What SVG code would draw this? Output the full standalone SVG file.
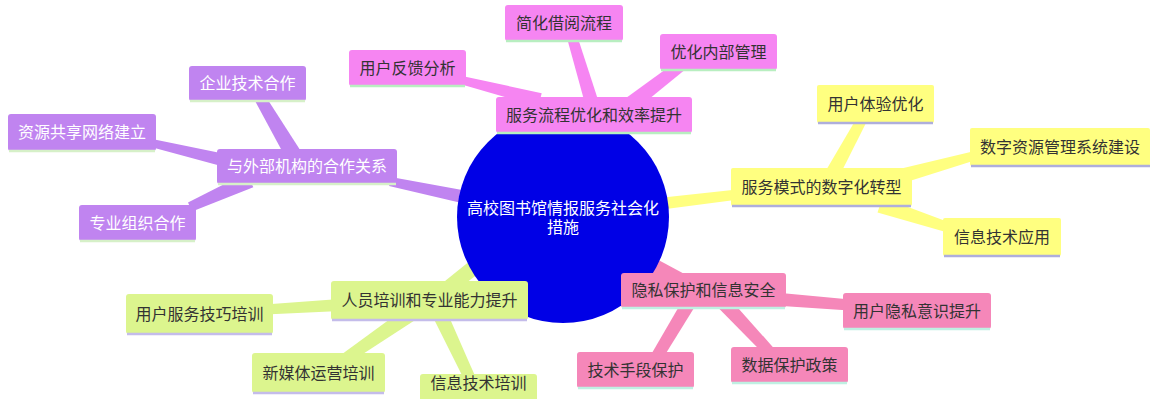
<svg xmlns="http://www.w3.org/2000/svg" width="1150" height="399" viewBox="0 0 1150 399">
<style>
text{font-family:"Noto Sans CJK SC","Noto Sans",sans-serif;font-size:16px;text-anchor:middle;fill:#333}
text.c{font-family:"Liberation Sans","Noto Sans CJK SC",sans-serif}
.sv{fill:#f685f2}.pu{fill:#c084f0}.ye{fill:#ffff80}.gr{fill:#dcf58e}.pk{fill:#f587b9}
.svl{stroke:#b8eec0}.pul{stroke:#d6f0c8}.yel{stroke:#aeaedc}.grl{stroke:#c4bcea}.pkl{stroke:#bff0e2}
line{stroke-width:2.5}
text.w{fill:#ffffff}
</style>
<rect width="1150" height="399" fill="#ffffff"/>
<g id="connectors">
<polygon class="sv" points="563,217 600,118 588,112 555,215"/>
<polygon class="sv" points="541.7,93.2 462,76 460,84 538.3,106.8"/>
<polygon class="sv" points="600.7,108 574.8,28.6 565.2,31.4 587.3,112"/>
<polygon class="sv" points="627.9,116.3 691.4,64.4 684.6,55.6 618.1,103.7"/>
<polygon class="pu" points="303.8,155.7 263,92.2 253.4,97.8 289.2,164.3"/>
<polygon class="pu" points="150.9,138.7 231.5,155.3 228.5,167.9 149.1,146.5"/>
<polygon class="pu" points="246.7,172.7 188,202.4 192,211.6 253.3,187.3"/>
<polygon class="pu" points="389.1,185.9 478.6,207.1 481.4,193.4 390.9,177.1"/>
<polygon class="ye" points="860,112.6 822.4,176.4 835.6,183.6 868.8,117.4"/>
<polygon class="ye" points="976.8,150.5 893,170.6 897,185 979.2,159.1"/>
<polygon class="ye" points="877.5,212.6 948.4,232.8 951.6,223.3 882.5,197.4"/>
<polygon class="ye" points="740.6,199.2 650.7,210.9 649.3,198.9 739.4,189.2"/>
<polygon class="gr" points="265.3,314.5 340.4,311 339.6,299 264.7,304.5"/>
<polygon class="gr" points="408.5,305.4 337.4,357.5 343.6,366.5 417.5,318.6"/>
<polygon class="gr" points="432,315.2 468,387.3 478,382.7 445.6,308.8"/>
<polygon class="gr" points="485.1,248.7 440.7,284.5 449.3,295.5 494.9,261.3"/>
<polygon class="pk" points="774.5,305.5 849.6,310.5 850.4,299.5 775.5,292.5"/>
<polygon class="pk" points="684.8,296.4 648.5,358.9 658.7,365.1 696.8,303.6"/>
<polygon class="pk" points="715.5,305.1 768.5,358.8 776.5,351.2 726.5,294.9"/>
<polygon class="pk" points="621.7,256.2 686.7,291.2 693.3,278.8 628.3,243.8"/>
</g>
<g id="root">
<circle cx="563" cy="217" r="106" fill="#0000e6"/>
<text class="w c" x="563" y="214">高校图书馆情报服务社会化</text>
<text class="w c" x="563" y="232.5">措施</text>
</g>
<g id="n-service">
<rect class="sv" x="496" y="97" width="196" height="36" rx="3"/><line class="svl" x1="497" y1="133" x2="691" y2="133"/>
<text x="594" y="121">服务流程优化和效率提升</text>
</g>
<g id="n-service-1">
<rect class="sv" x="505" y="5" width="118" height="36" rx="3"/><line class="svl" x1="506" y1="41" x2="622" y2="41"/>
<text x="564" y="29">简化借阅流程</text>
</g>
<g id="n-service-2">
<rect class="sv" x="349" y="50" width="117" height="36" rx="3"/><line class="svl" x1="350" y1="86" x2="465" y2="86"/>
<text x="407.5" y="74">用户反馈分析</text>
</g>
<g id="n-service-3">
<rect class="sv" x="660" y="34" width="117" height="36" rx="3"/><line class="svl" x1="661" y1="70" x2="776" y2="70"/>
<text x="718.5" y="58">优化内部管理</text>
</g>
<g id="n-coop">
<rect class="pu" x="217" y="149" width="180" height="35" rx="3"/><line class="pul" x1="218" y1="184" x2="396" y2="184"/>
<text class="w" x="307" y="172">与外部机构的合作关系</text>
</g>
<g id="n-coop-1">
<rect class="pu" x="189" y="66" width="117" height="35" rx="3"/><line class="pul" x1="190" y1="101" x2="305" y2="101"/>
<text class="w" x="247.5" y="89">企业技术合作</text>
</g>
<g id="n-coop-2">
<rect class="pu" x="8" y="114" width="148" height="37" rx="3"/><line class="pul" x1="9" y1="151" x2="155" y2="151"/>
<text class="w" x="82" y="138">资源共享网络建立</text>
</g>
<g id="n-coop-3">
<rect class="pu" x="79" y="205" width="117" height="36" rx="3"/><line class="pul" x1="80" y1="241" x2="195" y2="241"/>
<text class="w" x="137.5" y="229">专业组织合作</text>
</g>
<g id="n-digital">
<rect class="ye" x="731" y="168" width="181" height="38" rx="2"/><line class="yel" x1="732" y1="206" x2="911" y2="206"/>
<text x="821.5" y="193">服务模式的数字化转型</text>
</g>
<g id="n-digital-1">
<rect class="ye" x="817" y="85" width="117" height="38" rx="2"/><line class="yel" x1="818" y1="123" x2="933" y2="123"/>
<text x="875.5" y="110">用户体验优化</text>
</g>
<g id="n-digital-2">
<rect class="ye" x="970" y="128" width="180" height="38" rx="2"/><line class="yel" x1="971" y1="166" x2="1150" y2="166"/>
<text x="1060" y="153">数字资源管理系统建设</text>
</g>
<g id="n-digital-3">
<rect class="ye" x="943" y="218" width="118" height="38" rx="2"/><line class="yel" x1="944" y1="256" x2="1060" y2="256"/>
<text x="1002" y="243">信息技术应用</text>
</g>
<g id="n-train">
<rect class="gr" x="331" y="281" width="197" height="39" rx="3"/><line class="grl" x1="332" y1="320" x2="527" y2="320"/>
<text x="429.5" y="306">人员培训和专业能力提升</text>
</g>
<g id="n-train-1">
<rect class="gr" x="126" y="294" width="147" height="40" rx="3"/><line class="grl" x1="127" y1="334" x2="272" y2="334"/>
<text x="199.5" y="320">用户服务技巧培训</text>
</g>
<g id="n-train-2">
<rect class="gr" x="252" y="353" width="133" height="40" rx="3"/><line class="grl" x1="253" y1="393" x2="384" y2="393"/>
<text x="318.5" y="379">新媒体运营培训</text>
</g>
<g id="n-train-3">
<rect class="gr" x="420" y="374" width="117" height="38" rx="3"/>
<text x="478.5" y="389">信息技术培训</text>
</g>
<g id="n-privacy">
<rect class="pk" x="621" y="273" width="165" height="35" rx="3"/><line class="pkl" x1="622" y1="308" x2="785" y2="308"/>
<text x="703.5" y="296">隐私保护和信息安全</text>
</g>
<g id="n-privacy-1">
<rect class="pk" x="843" y="293" width="148" height="36" rx="3"/><line class="pkl" x1="844" y1="329" x2="990" y2="329"/>
<text x="917" y="317">用户隐私意识提升</text>
</g>
<g id="n-privacy-2">
<rect class="pk" x="577" y="352" width="117" height="36" rx="3"/><line class="pkl" x1="578" y1="388" x2="693" y2="388"/>
<text x="635.5" y="376">技术手段保护</text>
</g>
<g id="n-privacy-3">
<rect class="pk" x="731" y="347" width="117" height="36" rx="3"/><line class="pkl" x1="732" y1="383" x2="847" y2="383"/>
<text x="789.5" y="371">数据保护政策</text>
</g>
</svg>
